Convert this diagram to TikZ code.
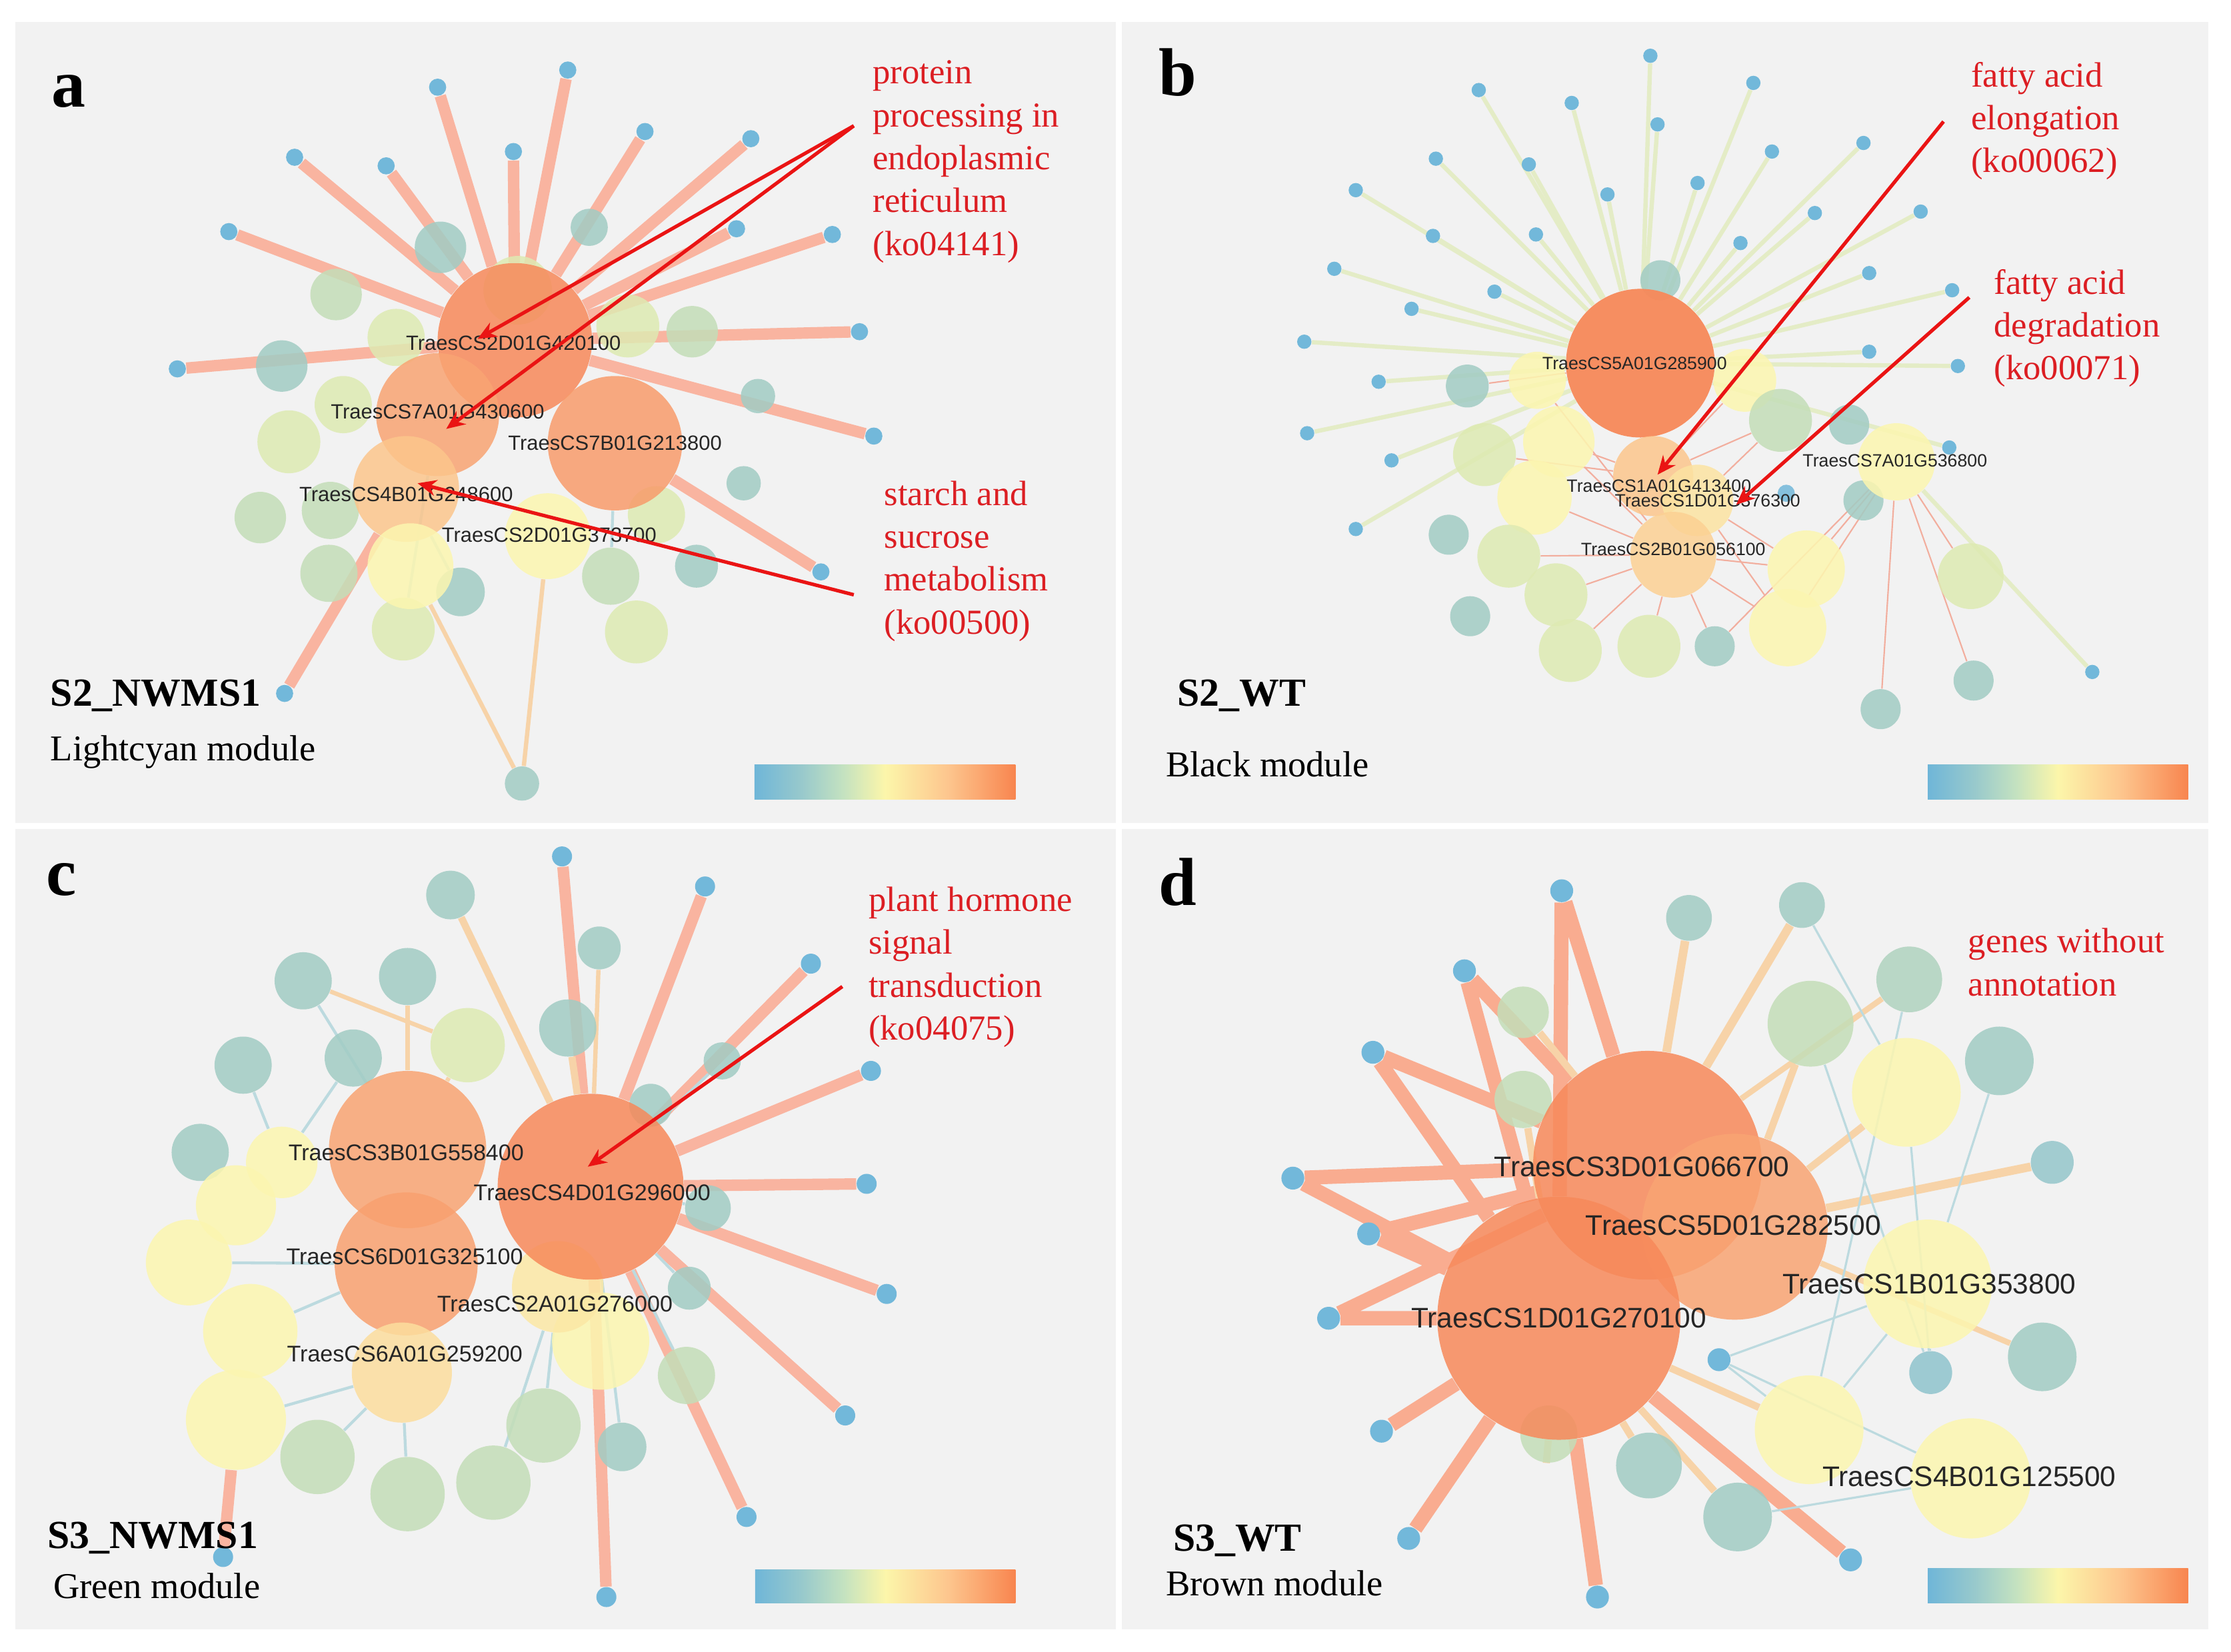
\documentclass[tikz,border=0pt]{standalone}
\usepackage{fontspec}
\setmainfont{Liberation Serif}
\setsansfont{Liberation Sans}
\usetikzlibrary{arrows.meta}

\definecolor{panelgray}{HTML}{F2F2F2}
\definecolor{dotblue}{HTML}{72B8DA}
\definecolor{cTeal}{HTML}{A2CCC4}
\definecolor{cGreen}{HTML}{C4DEB8}
\definecolor{cLime}{HTML}{DEEAB2}
\definecolor{cYellow}{HTML}{FCF6B0}
\definecolor{cPeach}{HTML}{FCC68C}
\definecolor{cOrange}{HTML}{F9A473}
\definecolor{cDeep}{HTML}{F7895A}
\definecolor{edgeSalmon}{HTML}{F9B4A0}
\definecolor{edgeDeep}{HTML}{F9AC90}
\definecolor{edgePale}{HTML}{E4ECC6}
\definecolor{paleOrange}{HTML}{F7D3A8}
\definecolor{paleBlue}{HTML}{BCDADF}
\definecolor{redline}{HTML}{F2AE9E}
\definecolor{noteRed}{HTML}{DC1E23}
\definecolor{arrowRed}{HTML}{EA1414}
\definecolor{barA}{HTML}{6FB6D8}
\definecolor{barB}{HTML}{98C9CC}
\definecolor{barC}{HTML}{C4E2C0}
\definecolor{barD}{HTML}{FCF6AA}
\definecolor{barE}{HTML}{FDC68E}
\definecolor{barF}{HTML}{F8854F}

\pgfdeclarelayer{bg}
\pgfdeclarelayer{edges}
\pgfdeclarelayer{mid}
\pgfsetlayers{bg,edges,mid,main}

\pgfdeclarehorizontalshading{cbar}{100bp}{color(0bp)=(barA); color(25bp)=(barA); color(34bp)=(barB); color(42bp)=(barC); color(50bp)=(barD); color(62bp)=(barE); color(75bp)=(barF); color(100bp)=(barF)}

\tikzset{
	gene/.style={circle, inner sep=0pt, minimum size=2*#1*0.02146cm, fill opacity=0.85},
	tipdot/.style={gene=#1, fill=dotblue, fill opacity=1},
	fat/.style={line width=#1*0.02146cm, draw=edgeSalmon},
	faint/.style={line width=#1*0.02146cm},
	gname/.style={font=\sffamily\fontsize{#1}{#1}\selectfont, text=black!85, inner sep=0pt},
	note/.style={font=\fontsize{15}{18.3}\selectfont, text=noteRed, align=left, anchor=north west, inner sep=0pt},
	paneltag/.style={font=\bfseries\fontsize{29}{29}\selectfont, anchor=base west, inner sep=0pt},
	sample/.style={font=\bfseries\fontsize{17}{17}\selectfont, anchor=base west, inner sep=0pt},
	module/.style={font=\fontsize{15.5}{15.5}\selectfont, anchor=base west, inner sep=0pt},
	pointer/.style={draw=arrowRed, line width=1.5pt, -{Stealth[length=2.8mm,width=2.4mm]}},
}

\begin{document}
\begin{tikzpicture}[x=0.02146cm, y=-0.02146cm]
	\useasboundingbox (0,0) rectangle (1560,1155);
	\begin{pgfonlayer}{bg}
		\fill[white] (0,0) rectangle (1560,1155);
		\fill[panelgray] (10.5,15.5) rectangle (780,575.5);
		\fill[panelgray] (784.5,15.5) rectangle (1544,575.5);
		\fill[panelgray] (10.5,580) rectangle (780,1139.5);
		\fill[panelgray] (784.5,580) rectangle (1544,1139.5);
	\end{pgfonlayer}

	% panel a
	\node[gene=54, fill=cDeep] (a-h1) at (360,238) {};
	\node[gene=43, fill=cOrange] (a-h2) at (306,290) {};
	\node[gene=47, fill=cOrange!70!cDeep] (a-h3) at (430,310) {};
	\node[gene=37, fill=cPeach] (a-h4) at (284,342) {};
	\node[gene=30, fill=cYellow] (a-h5) at (383,375) {};
	\node[gene=30, fill=cYellow] (a-h6) at (287,396) {};
	\begin{pgfonlayer}{mid}
		\foreach \x/\y/\r/\col [count=\i] in {308/173/18/cTeal, 235/206/18/cGreen, 362/203/24/cLime, 277/236/20/cLime, 197/256/18/cTeal, 439/228/22/cLime, 484/232/18/cGreen, 530/277/12/cTeal, 240/283/20/cLime, 202/309/22/cLime, 182/362/18/cGreen, 231/357/20/cGreen, 520/338/12/cTeal, 459/360/20/cLime, 230/401/20/cGreen, 322/414/17/cTeal, 427/403/20/cGreen, 445/442/22/cLime, 282/440/22/cLime, 487/396/15/cTeal, 412/159/13/cTeal, 365/548/12/cTeal}
			\node[gene=\r, fill=\col] (a-m\i) at (\x,\y) {};
	\end{pgfonlayer}
	\foreach \x/\y/\h [count=\i] in {397/49/1, 306/61/1, 451/92/1, 525/97/1, 206/110/1, 270/116/1, 359/106/1, 160/162/1, 515/160/1, 582/164/1, 601/232/1, 124/258/1, 611/305/1, 574/400/3, 199/485/4}{
		\node[tipdot=6] (a-d\i) at (\x,\y) {};
		\begin{pgfonlayer}{edges}\draw[fat=8] (a-d\i) -- (a-h\h);\end{pgfonlayer}
	}
	\begin{pgfonlayer}{edges}
		\draw[faint=3, paleOrange] (a-m22) -- (a-h5) (a-m22) -- (a-h6);
		\draw[faint=2, paleBlue] (a-m16) -- (a-h4) (a-m19) -- (a-h2) (a-m17) -- (a-h3) (a-m12) -- (a-h4);
	\end{pgfonlayer}
	\node[gname=8.8] (a-l1) at (359,240) {TraesCS2D01G420100};
	\node[gname=8.8] (a-l2) at (306,288) {TraesCS7A01G430600};
	\node[gname=8.8] (a-l3) at (430,310) {TraesCS7B01G213800};
	\node[gname=8.8] (a-l4) at (284,346) {TraesCS4B01G248600};
	\node[gname=8.8] (a-l5) at (384,374) {TraesCS2D01G373700};
	\node[paneltag] (a-tag) at (36,75) {a};
	\node[note] (a-n1) at (610,42) {protein\\processing in\\endoplasmic\\reticulum\\(ko04141)};
	\node[note] (a-n2) at (618,336) {starch and\\sucrose\\metabolism\\(ko00500)};
	\coordinate (a-p1) at (597,88);
	\coordinate (a-p2) at (597,416);
	\coordinate (a-t1) at (334,237);
	\coordinate (a-t2) at (312,300);
	\coordinate (a-t3) at (292,338);
	\draw[pointer] (a-p1) -- (a-t1);
	\draw[pointer] (a-p1) -- (a-t2);
	\draw[pointer] (a-p2) -- (a-t3);
	\node[sample] (a-s) at (35,494) {S2\_NWMS1};
	\node[module] (a-mod) at (35,532) {Lightcyan module};
	\shade[shading=cbar] (527.6,535) rectangle (710,559);

	% panel b
	\node[gene=52, fill=cDeep, fill opacity=0.95] (b-h1) at (1147,254) {};
	\node[gene=28, fill=cPeach] (b-h2) at (1156,333) {};
	\node[gene=25, fill=cYellow!60!cPeach] (b-h3) at (1187,350) {};
	\node[gene=30, fill=cPeach!80!cYellow] (b-h4) at (1170,388) {};
	\node[gene=27, fill=cYellow] (b-h5) at (1326,323) {};
	\begin{pgfonlayer}{mid}
		\foreach \x/\y/\r/\col [count=\i] in {1161/196/14/cTeal, 1026/270/15/cTeal, 1075/266/20/cYellow, 1220/266/22/cYellow, 1090/309/25/cYellow, 1038/318/22/cLime, 1245/294/22/cGreen, 1293/297/14/cTeal, 1073/348/26/cYellow, 1303/350/14/cTeal, 1013/374/14/cTeal, 1055/389/22/cLime, 1263/398/27/cYellow, 1378/403/23/cLime, 1088/416/22/cLime, 1028/431/14/cTeal, 1098/455/22/cLime, 1153/452/22/cLime, 1199/452/14/cTeal, 1250/439/27/cYellow, 1380/476/14/cTeal, 1315/496/14/cTeal, 1249/345/6/dotblue}
			\node[gene=\r, fill=\col] (b-m\i) at (\x,\y) {};
	\end{pgfonlayer}
	\foreach \x/\y/\h [count=\i] in {1154/39/1, 1226/58/1, 1034/63/1, 1099/72/1, 1159/87/1, 1303/100/1, 1239/106/1, 1004/111/1, 1069/115/1, 1187/128/1, 1124/136/1, 948/133/1, 1343/148/1, 1269/149/1, 1002/165/1, 1074/164/1, 1217/170/1, 933/188/1, 1307/191/1, 1045/204/1, 987/216/1, 1365/203/1, 912/239/1, 1307/246/1, 1369/256/1, 964/267/1, 914/303/1, 973/322/1, 1363/313/1, 948/370/1, 1463/470/5}{
		\node[tipdot=5] (b-d\i) at (\x,\y) {};
		\begin{pgfonlayer}{edges}\draw[faint=3, edgePale] (b-d\i) -- (b-h\h);\end{pgfonlayer}
	}
	\begin{pgfonlayer}{edges}
		\foreach \p/\q in {h4/m9, h4/m12, h4/m13, h4/m15, h4/m17, h4/m18, h4/m19, h4/m20, h4/m5, h4/m3, h5/m13, h5/m20, h5/m14, h5/m22, h5/m21, h5/m19, h2/m5, h2/m7, h2/m4, h2/m6, h3/m13, h3/m20, h3/m7, h1/m1, h1/m2}
			\draw[faint=1, redline] (b-\p) -- (b-\q);
	\end{pgfonlayer}
	\node[gname=7.6] (b-l1) at (1143,254) {TraesCS5A01G285900};
	\node[gname=7.6] (b-l2) at (1160,340) {TraesCS1A01G413400};
	\node[gname=7.6] (b-l3) at (1194,350) {TraesCS1D01G376300};
	\node[gname=7.6] (b-l4) at (1170,384) {TraesCS2B01G056100};
	\node[gname=7.6] (b-l5) at (1325,322) {TraesCS7A01G536800};
	\node[paneltag] (b-tag) at (810,67) {b};
	\node[note] (b-n1) at (1378,43) {fatty acid\\elongation\\(ko00062)};
	\node[note] (b-n2) at (1394,188) {fatty acid\\degradation\\(ko00071)};
	\coordinate (b-p1) at (1359,85);
	\coordinate (b-p2) at (1377,208);
	\coordinate (b-t1) at (1159,332);
	\coordinate (b-t2) at (1214,353);
	\draw[pointer] (b-p1) -- (b-t1);
	\draw[pointer] (b-p2) -- (b-t2);
	\node[sample] (b-s) at (823,494) {S2\_WT};
	\node[module] (b-mod) at (815,543) {Black module};
	\shade[shading=cbar] (1348,535) rectangle (1530,559);

	% panel c
	\node[gene=55, fill=cOrange] (c-h2) at (285,804) {};
	\node[gene=50, fill=cOrange!85!cDeep] (c-h3) at (284,884) {};
	\node[gene=35, fill=cPeach!50!cYellow] (c-h5) at (281,960) {};
	\node[gene=32, fill=cYellow!70!cPeach] (c-h4) at (390,900) {};
	\node[gene=65, fill=cDeep] (c-h1) at (413,830) {};
	\begin{pgfonlayer}{mid}
		\foreach \x/\y/\r/\col [count=\i] in {315/626/17/cTeal, 419/663/15/cTeal, 212/686/20/cTeal, 285/683/20/cTeal, 327/731/26/cLime, 170/745/20/cTeal, 247/740/20/cTeal, 397/719/20/cTeal, 505/742/13/cTeal, 140/806/20/cTeal, 455/773/15/cTeal, 495/845/16/cTeal, 482/901/15/cTeal, 197/813/25/cYellow, 165/843/28/cYellow, 132/883/30/cYellow, 175/931/33/cYellow, 420/938/34/cYellow, 480/962/20/cGreen, 165/993/35/cYellow, 222/1019/26/cGreen, 285/1045/26/cGreen, 345/1037/26/cGreen, 380/997/26/cGreen, 435/1012/17/cTeal}
			\node[gene=\r, fill=\col] (c-m\i) at (\x,\y) {};
	\end{pgfonlayer}
	\foreach \x/\y/\t [count=\i] in {393/599/h1, 493/620/h1, 567/674/h1, 609/749/h1, 606/828/h1, 620/905/h1, 591/990/h1, 522/1061/h1, 424/1117/h1, 156/1089/m20}{
		\node[tipdot=7] (c-d\i) at (\x,\y) {};
		\begin{pgfonlayer}{edges}\draw[fat=8] (c-d\i) -- (c-\t);\end{pgfonlayer}
	}
	\begin{pgfonlayer}{edges}
		\draw[faint=5, paleOrange] (c-m1) -- (c-h1) (c-m8) -- (c-h1);
		\foreach \p/\q in {m4/h2, m5/h2, m3/m5, m7/h2, m2/h1}
			\draw[faint=3, paleOrange] (c-\p) -- (c-\q);
		\foreach \p/\q in {m6/m14, m10/m15, m21/h5, m22/h5, m23/h4, m24/h4, m25/h1, m19/h1, m13/h1, m12/h1, m11/h1, m9/h1, m16/h3, m17/h3, m20/h5, m3/h2, m7/m14}
			\draw[faint=2, paleBlue] (c-\p) -- (c-\q);
	\end{pgfonlayer}
	\node[gname=9.7] (c-l1) at (284,806) {TraesCS3B01G558400};
	\node[gname=9.7] (c-l2) at (414,834) {TraesCS4D01G296000};
	\node[gname=9.7] (c-l3) at (283,879) {TraesCS6D01G325100};
	\node[gname=9.7] (c-l4) at (388,912) {TraesCS2A01G276000};
	\node[gname=9.7] (c-l5) at (283,947) {TraesCS6A01G259200};
	\node[paneltag] (c-tag) at (32,626) {c};
	\node[note] (c-n1) at (607,620) {plant hormone\\signal\\transduction\\(ko04075)};
	\coordinate (c-p1) at (589,690);
	\coordinate (c-t1) at (411,816);
	\draw[pointer] (c-p1) -- (c-t1);
	\node[sample] (c-s) at (33,1083) {S3\_NWMS1};
	\node[module] (c-mod) at (37,1118) {Green module};
	\shade[shading=cbar] (528,1098) rectangle (710,1121);

	% panel d
	\node[gene=45, fill=cYellow] (d-h4) at (1348,898) {};
	\node[gene=42, fill=cYellow] (d-h5) at (1378,1034) {};
	\node[gene=80, fill=cDeep] (d-h1) at (1152,815) {};
	\node[gene=65, fill=cOrange] (d-h2) at (1213,858) {};
	\node[gene=85, fill=cDeep] (d-h3) at (1090,922) {};
	\begin{pgfonlayer}{mid}
		\foreach \x/\y/\r/\col [count=\i] in {1181/642/16/cTeal, 1260/633/16/cTeal, 1065/708/18/cGreen, 1335/685/23/cTeal!60!cGreen, 1266/716/30/cGreen, 1398/742/24/cTeal, 1333/764/38/cYellow, 1435/813/15/cTeal!70!dotblue, 1065/769/20/cGreen, 1428/949/24/cTeal, 1350/960/15/cTeal!60!dotblue, 1265/1000/38/cYellow, 1153/1025/23/cTeal, 1215/1061/24/cTeal, 1083/1003/20/cGreen}
			\node[gene=\r, fill=\col] (d-m\i) at (\x,\y) {};
	\end{pgfonlayer}
	\foreach \x/\y/\ta/\tb [count=\i] in {1092/623/h1/h3, 1024/679/h1/h3, 960/736/h1/h3, 904/824/h1/h3, 957/863/h1/h3, 929/922/h3/h1, 966/1001/h3/h3, 985/1076/h3/h3, 1117/1117/h3/h3, 1294/1091/h3/h3}{
		\node[tipdot=8] (d-d\i) at (\x,\y) {};
		\begin{pgfonlayer}{edges}\draw[fat=10, edgeDeep] (d-d\i) -- (d-\ta) (d-d\i) -- (d-\tb);\end{pgfonlayer}
	}
	\node[tipdot=8] (d-d11) at (1202,951) {};
	\begin{pgfonlayer}{edges}
		\foreach \p/\q/\w in {m1/h1/6, m2/h1/6, m5/h2/5, m7/h2/5, m8/h2/6, m12/h3/5, m13/h3/5, m14/h3/5, m3/h1/5, m9/h3/5, m15/h3/5, m10/h2/4, m4/h1/4}
			\draw[faint=\w, paleOrange] (d-\p) -- (d-\q);
		\foreach \p/\q in {m4/m12, m5/m11, m7/m11, m12/h4, h5/m14, h4/m11, m6/h4, m2/m7, d11/h4, d11/h5, d11/m12}
			\draw[faint=1.5, paleBlue] (d-\p) -- (d-\q);
	\end{pgfonlayer}
	\node[gname=12.1] (d-l1) at (1148,816) {TraesCS3D01G066700};
	\node[gname=12.1] (d-l2) at (1212,857) {TraesCS5D01G282500};
	\node[gname=12.1] (d-l3) at (1349,898) {TraesCS1B01G353800};
	\node[gname=12.1] (d-l4) at (1090,922) {TraesCS1D01G270100};
	\node[gname=12.1] (d-l5) at (1377,1033) {TraesCS4B01G125500};
	\node[paneltag] (d-tag) at (810,633) {d};
	\node[note] (d-n1) at (1376,649) {genes without\\annotation};
	\node[sample] (d-s) at (820,1085) {S3\_WT};
	\node[module] (d-mod) at (815,1116) {Brown module};
	\shade[shading=cbar] (1348,1097) rectangle (1530,1121);
\end{tikzpicture}
\end{document}
